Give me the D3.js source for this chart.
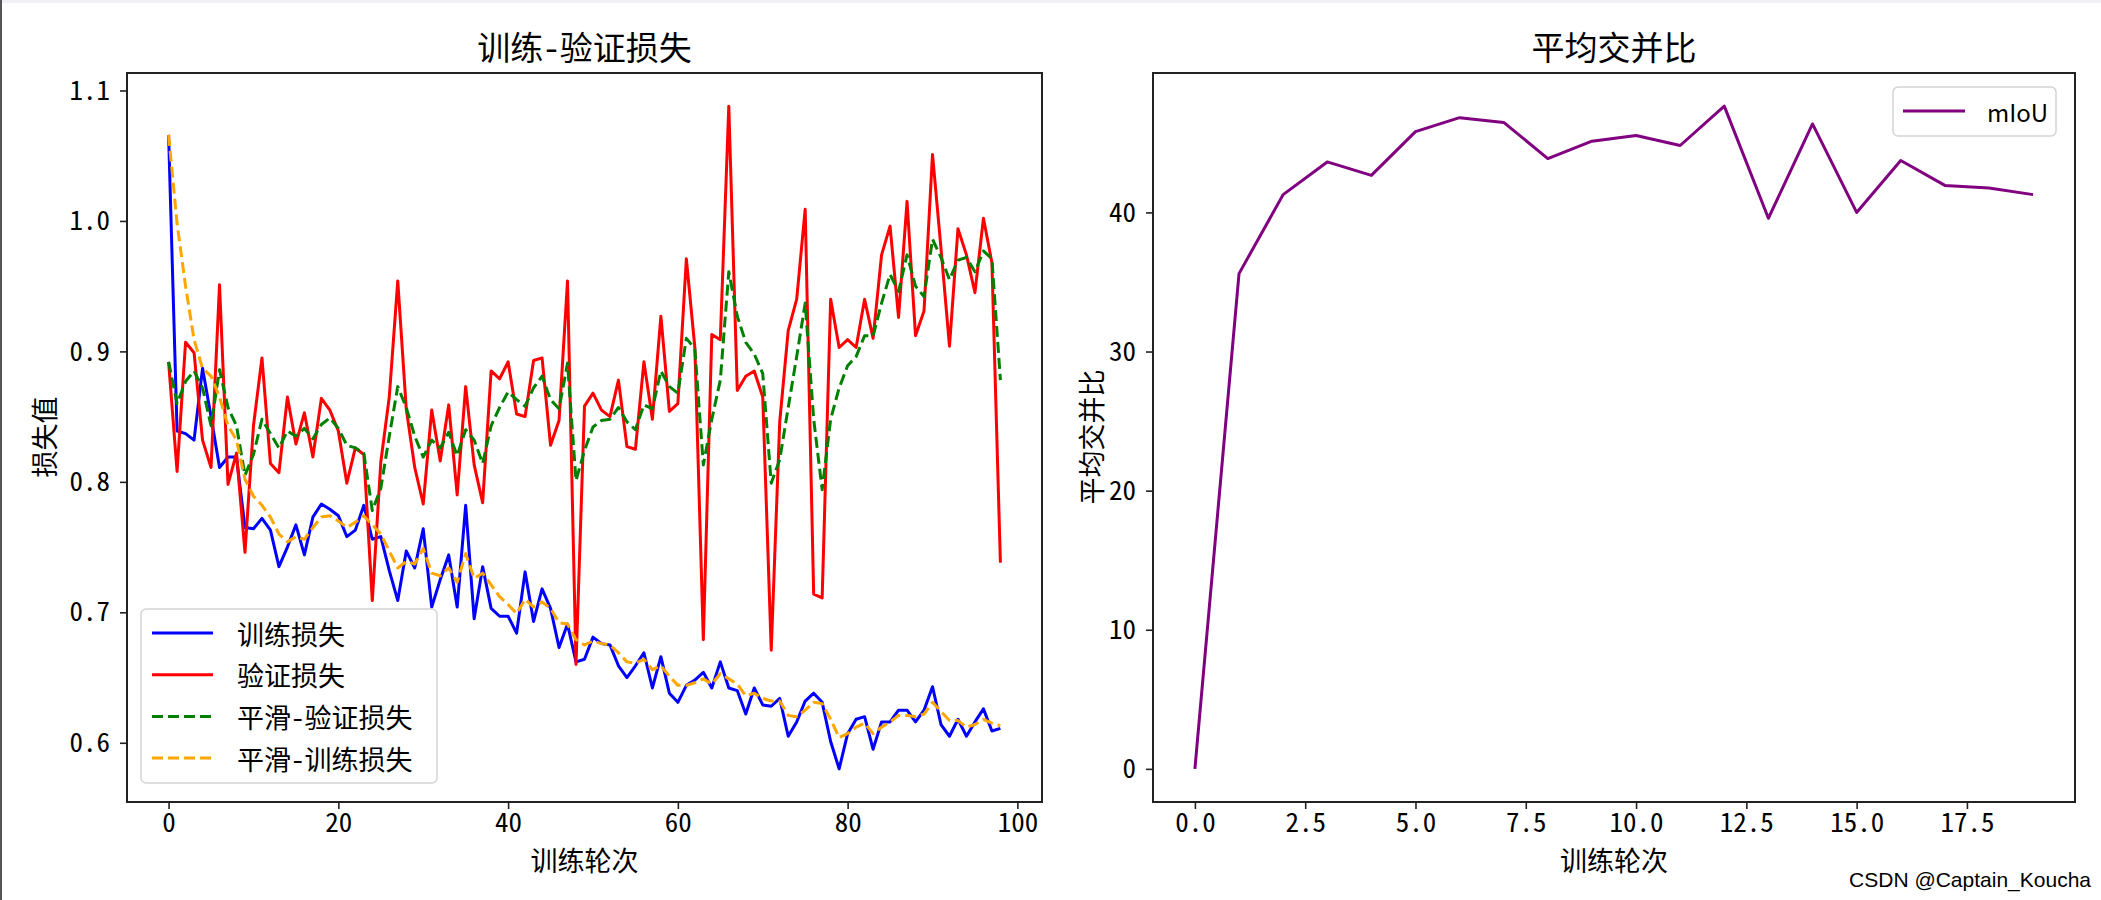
<!DOCTYPE html>
<html>
<head>
<meta charset="utf-8">
<script src="https://cdn.jsdelivr.net/npm/d3@7"></script>
<style>
  html, body { margin: 0; padding: 0; background: #fff; }
  svg { display: block; }
  text { font-family: "Noto Sans Mono CJK SC", "Noto Sans CJK SC", "DejaVu Sans", sans-serif; fill: #000; }
</style>
</head>
<body>
<svg id="chart" width="2101" height="900"></svg>
<script>
// ---------------- data ----------------
const trainLoss = [1.066,0.839,0.837,0.832,0.887,0.850,0.811,0.819,0.819,0.765,
  0.764,0.772,0.763,0.735,0.750,0.767,0.744,0.773,0.783,0.779,
  0.774,0.758,0.763,0.782,0.756,0.758,0.732,0.709,0.747,0.734,
  0.764,0.704,0.725,0.744,0.704,0.782,0.695,0.735,0.703,0.697,
  0.697,0.684,0.731,0.693,0.718,0.703,0.673,0.691,0.662,0.664,
  0.681,0.676,0.675,0.659,0.650,0.659,0.669,0.642,0.666,0.638,
  0.631,0.644,0.648,0.654,0.642,0.662,0.642,0.640,0.622,0.642,
  0.629,0.628,0.634,0.605,0.616,0.632,0.638,0.631,0.601,0.580,
  0.607,0.618,0.620,0.595,0.616,0.616,0.625,0.625,0.616,0.625,
  0.643,0.614,0.605,0.618,0.605,0.616,0.626,0.609,0.611];

const valLoss = [0.892,0.808,0.907,0.899,0.832,0.811,0.951,0.798,0.822,0.746,
  0.843,0.895,0.814,0.807,0.865,0.829,0.853,0.819,0.864,0.855,
  0.839,0.799,0.826,0.821,0.709,0.815,0.865,0.954,0.856,0.811,
  0.783,0.855,0.816,0.859,0.790,0.873,0.813,0.784,0.885,0.879,
  0.892,0.852,0.850,0.893,0.895,0.828,0.847,0.954,0.660,0.858,
  0.868,0.855,0.850,0.878,0.827,0.825,0.892,0.848,0.927,0.854,
  0.860,0.971,0.903,0.679,0.913,0.909,1.088,0.870,0.881,0.885,
  0.865,0.671,0.846,0.916,0.940,1.009,0.714,0.711,0.940,0.903,
  0.909,0.903,0.940,0.910,0.974,0.996,0.926,1.015,0.912,0.931,
  1.051,0.979,0.904,0.994,0.974,0.945,1.002,0.968,0.738];

const smoothVal = [0.892,0.860,0.877,0.885,0.872,0.843,0.886,0.857,0.843,0.805,
  0.821,0.848,0.837,0.826,0.839,0.835,0.841,0.833,0.844,0.849,
  0.841,0.828,0.826,0.822,0.778,0.795,0.835,0.873,0.857,0.835,
  0.819,0.832,0.826,0.838,0.820,0.840,0.832,0.814,0.843,0.857,
  0.869,0.863,0.858,0.872,0.881,0.863,0.856,0.891,0.801,0.824,
  0.842,0.847,0.848,0.857,0.846,0.840,0.859,0.856,0.885,0.873,
  0.868,0.910,0.902,0.813,0.848,0.878,0.961,0.927,0.907,0.898,
  0.883,0.799,0.817,0.857,0.896,0.937,0.848,0.794,0.848,0.872,
  0.889,0.896,0.912,0.912,0.937,0.959,0.946,0.974,0.950,0.942,
  0.986,0.972,0.955,0.970,0.972,0.961,0.977,0.971,0.878];

const smoothTrain = [1.066,0.998,0.950,0.909,0.887,0.881,0.865,0.843,0.832,0.802,
  0.789,0.782,0.773,0.760,0.754,0.758,0.756,0.765,0.773,0.774,
  0.770,0.765,0.769,0.774,0.767,0.760,0.747,0.734,0.739,0.737,
  0.749,0.730,0.728,0.734,0.723,0.745,0.726,0.730,0.721,0.712,
  0.706,0.699,0.710,0.704,0.708,0.703,0.692,0.691,0.679,0.675,
  0.678,0.676,0.675,0.669,0.662,0.661,0.664,0.656,0.659,0.651,
  0.644,0.644,0.646,0.649,0.645,0.653,0.649,0.645,0.636,0.638,
  0.634,0.632,0.632,0.621,0.620,0.625,0.631,0.630,0.618,0.604,
  0.607,0.612,0.615,0.607,0.612,0.616,0.621,0.621,0.620,0.622,
  0.631,0.624,0.617,0.617,0.612,0.614,0.618,0.615,0.613];

const miou = [0, 35.6, 41.28, 43.63, 42.66, 45.81, 46.81, 46.47, 43.87, 45.12,
  45.53, 44.81, 47.64, 39.58, 46.36, 40.0, 43.73, 41.94, 41.76, 41.28];

const lossSeriesNames = ["训练损失", "验证损失", "平滑-验证损失", "平滑-训练损失"];
const miouSeriesName = "mIoU";
const lossXTicks = [0, 20, 40, 60, 80, 100];
const lossYTicks = [0.6, 0.7, 0.8, 0.9, 1.0, 1.1];
const miouXTicks = [0, 2.5, 5, 7.5, 10, 12.5, 15, 17.5];
const miouYTicks = [0, 10, 20, 30, 40];
const titles = ["训练-验证损失", "平均交并比"];
const xLabel = "训练轮次";
const yLabels = ["损失值", "平均交并比"];

// ---------------- layout ----------------
const svg = d3.select("#chart");
const axL = {x0: 127, x1: 1042, y0: 73, y1: 802};
const axR = {x0: 1153, x1: 2075, y0: 73, y1: 802};

// screenshot edge artefacts
svg.append("rect").attr("x", 0).attr("y", 0).attr("width", 2101).attr("height", 3).attr("fill", "#eff0f3");
svg.append("line").attr("x1", 1).attr("x2", 1).attr("y1", 0).attr("y2", 900)
  .attr("stroke", "#555").attr("stroke-width", 2);

function padDomain(lo, hi) { const p = (hi - lo) * 0.05; return [lo - p, hi + p]; }

// ---------------- left chart ----------------
const xL = d3.scaleLinear().domain(padDomain(0, trainLoss.length - 1)).range([axL.x0, axL.x1]);
const allLoss = trainLoss.concat(valLoss, smoothVal, smoothTrain);
const yL = d3.scaleLinear().domain(padDomain(d3.min(allLoss), d3.max(allLoss))).range([axL.y1, axL.y0]);

// ---------------- right chart ----------------
const xR = d3.scaleLinear().domain(padDomain(0, miou.length - 1)).range([axR.x0, axR.x1]);
const yR = d3.scaleLinear().domain(padDomain(d3.min(miou), d3.max(miou))).range([axR.y1, axR.y0]);

function styleAxis(g) {
  g.select(".domain").remove();
  g.selectAll(".tick line").attr("stroke", "#222").attr("stroke-width", 1.6);
  g.selectAll(".tick text").attr("font-size", 27).attr("fill", "#000")
    .style("font-family", '"Noto Sans Mono CJK SC", "Noto Sans CJK SC", sans-serif');
}

function drawAxes(ax, xs, ys, xt, yt, xfmt, yfmt) {
  svg.append("g").attr("transform", `translate(0,${ax.y1})`)
    .call(d3.axisBottom(xs).tickValues(xt).tickSize(7).tickPadding(4).tickFormat(xfmt))
    .call(styleAxis);
  svg.append("g").attr("transform", `translate(${ax.x0},0)`)
    .call(d3.axisLeft(ys).tickValues(yt).tickSize(7).tickPadding(10).tickFormat(yfmt))
    .call(styleAxis);
}

drawAxes(axL, xL, yL, lossXTicks, lossYTicks, d3.format("d"), d3.format(".1f"));
drawAxes(axR, xR, yR, miouXTicks, miouYTicks, d3.format(".1f"), d3.format("d"));

// clip paths
const defs = svg.append("defs");
[["clipL", axL], ["clipR", axR]].forEach(([id, ax]) => {
  defs.append("clipPath").attr("id", id).append("rect")
    .attr("x", ax.x0).attr("y", ax.y0).attr("width", ax.x1 - ax.x0).attr("height", ax.y1 - ax.y0);
});

const lossStyles = [
  {data: trainLoss, color: "#0000ff", dash: null},
  {data: valLoss, color: "#ff0000", dash: null},
  {data: smoothVal, color: "#008000", dash: "11,5"},
  {data: smoothTrain, color: "#ffa500", dash: "11,5"}
];

const lineL = d3.line().x((d, i) => xL(i)).y(d => yL(d));
const gL = svg.append("g").attr("clip-path", "url(#clipL)");
lossStyles.forEach(s => {
  gL.append("path").datum(s.data).attr("d", lineL)
    .attr("fill", "none").attr("stroke", s.color).attr("stroke-width", 3)
    .attr("stroke-linejoin", "round")
    .attr("stroke-dasharray", s.dash);
});

const lineR = d3.line().x((d, i) => xR(i)).y(d => yR(d));
svg.append("g").attr("clip-path", "url(#clipR)")
  .append("path").datum(miou).attr("d", lineR)
  .attr("fill", "none").attr("stroke", "#800080").attr("stroke-width", 3)
  .attr("stroke-linejoin", "round");

// frames
[axL, axR].forEach(ax => {
  svg.append("rect").attr("x", ax.x0).attr("y", ax.y0)
    .attr("width", ax.x1 - ax.x0).attr("height", ax.y1 - ax.y0)
    .attr("fill", "none").attr("stroke", "#222").attr("stroke-width", 2);
});

// titles & labels
[[axL, titles[0]], [axR, titles[1]]].forEach(([ax, t]) => {
  svg.append("text").attr("x", (ax.x0 + ax.x1) / 2).attr("y", 60)
    .attr("text-anchor", "middle").attr("font-size", 33).text(t);
  svg.append("text").attr("x", (ax.x0 + ax.x1) / 2).attr("y", 859)
    .attr("text-anchor", "middle").attr("dominant-baseline", "central")
    .attr("font-size", 27).text(xLabel);
});
[[43, yLabels[0]], [1090, yLabels[1]]].forEach(([x, t]) => {
  svg.append("text").attr("transform", `translate(${x},437) rotate(-90)`)
    .attr("text-anchor", "middle").attr("dominant-baseline", "central")
    .attr("font-size", 27).text(t);
});

// legend left
const legL = svg.append("g");
legL.append("rect").attr("x", 141).attr("y", 609).attr("width", 296).attr("height", 174)
  .attr("rx", 5).attr("fill", "#fff").attr("fill-opacity", 0.8)
  .attr("stroke", "#d4d4d4").attr("stroke-width", 1.5);
lossStyles.forEach((s, i) => {
  const y = 633 + i * 41.7;
  legL.append("line").attr("x1", 152).attr("x2", 213).attr("y1", y).attr("y2", y)
    .attr("stroke", s.color).attr("stroke-width", 3).attr("stroke-dasharray", s.dash);
  legL.append("text").attr("x", 237).attr("y", y).attr("dominant-baseline", "central")
    .attr("font-size", 27).text(lossSeriesNames[i]);
});

// legend right
const legR = svg.append("g");
legR.append("rect").attr("x", 1893).attr("y", 87).attr("width", 163).attr("height", 49)
  .attr("rx", 5).attr("fill", "#fff").attr("fill-opacity", 0.8)
  .attr("stroke", "#d4d4d4").attr("stroke-width", 1.5);
legR.append("line").attr("x1", 1903).attr("x2", 1965).attr("y1", 111).attr("y2", 111)
  .attr("stroke", "#800080").attr("stroke-width", 3);
legR.append("text").attr("x", 1987).attr("y", 111).attr("dominant-baseline", "central")
  .attr("font-size", 24)
  .style("font-family", '"Noto Sans CJK SC", sans-serif')
  .text(miouSeriesName);

// watermark
svg.append("text").attr("x", 2091).attr("y", 887).attr("text-anchor", "end")
  .attr("font-size", 21).attr("fill", "#a3a3a3")
  .style("font-family", "Arial, 'Liberation Sans', sans-serif")
  .text("CSDN @Captain_Koucha");
</script>
</body>
</html>
